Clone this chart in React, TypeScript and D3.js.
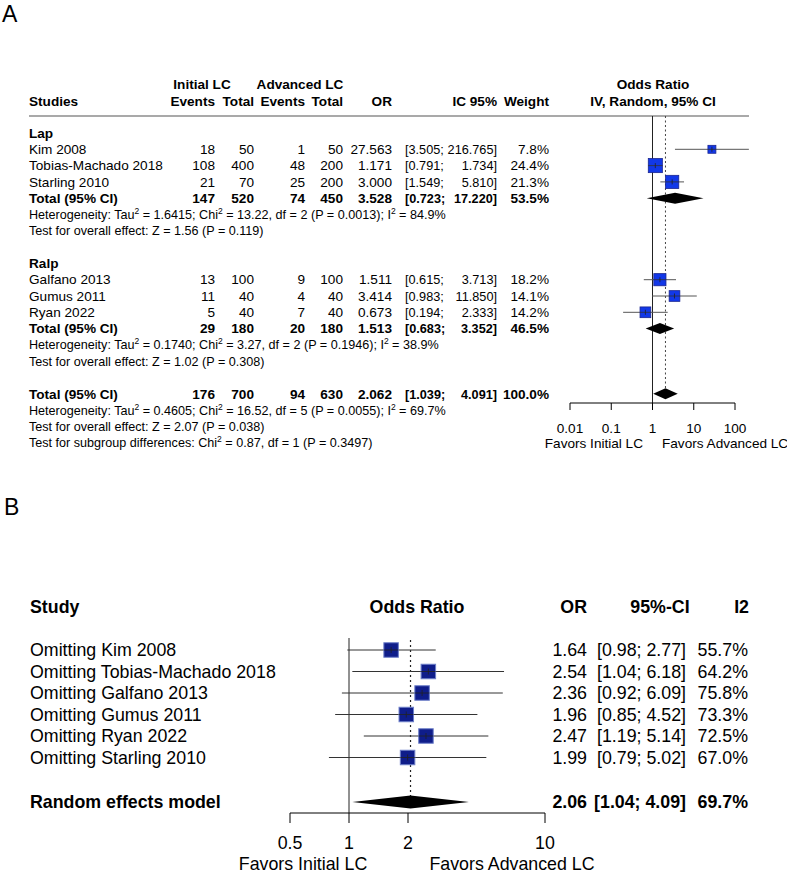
import React from "react";
import * as d3 from "d3";

// ---- Panel A data (subgroup meta-analysis) ----
const studiesA = ["Kim 2008", "Tobias-Machado 2018", "Starling 2010", "Galfano 2013", "Gumus 2011", "Ryan 2022"];
const groupA = [0, 0, 0, 1, 1, 1];
const eventsInitial = [18, 108, 21, 13, 11, 5];
const totalInitial = [50, 400, 70, 100, 40, 40];
const eventsAdvanced = [1, 48, 25, 9, 4, 7];
const totalAdvanced = [50, 200, 200, 100, 40, 40];
const orA = [27.563, 1.171, 3.0, 1.511, 3.414, 0.673];
const lowerA = [3.505, 0.791, 1.549, 0.615, 0.983, 0.194];
const upperA = [216.765, 1.734, 5.81, 3.713, 11.85, 2.333];
const weightA = [7.8, 24.4, 21.3, 18.2, 14.1, 14.2];

const subgroups = ["Lap", "Ralp"];
const subEventsInitial = [147, 29];
const subTotalInitial = [520, 180];
const subEventsAdvanced = [74, 20];
const subTotalAdvanced = [450, 180];
const subOR = [3.528, 1.513];
const subLower = [0.723, 0.683];
const subUpper = [17.22, 3.352];
const subWeight = [53.5, 46.5];
const subHet = [
  "Heterogeneity: Tau^2 = 1.6415; Chi^2 = 13.22, df = 2 (P = 0.0013); I^2 = 84.9%",
  "Heterogeneity: Tau^2 = 0.1740; Chi^2 = 3.27, df = 2 (P = 0.1946); I^2 = 38.9%",
];
const subTest = ["Test for overall effect: Z = 1.56 (P = 0.119)", "Test for overall effect: Z = 1.02 (P = 0.308)"];

const overallCounts = [176, 700, 94, 630];
const overallOR = 2.062;
const overallLower = 1.039;
const overallUpper = 4.091;
const overallWeight = 100.0;
const overallNotes = [
  "Heterogeneity: Tau^2 = 0.4605; Chi^2 = 16.52, df = 5 (P = 0.0055); I^2 = 69.7%",
  "Test for overall effect: Z = 2.07 (P = 0.038)",
  "Test for subgroup differences: Chi^2 = 0.87, df = 1 (P = 0.3497)",
];
const ticksA = [0.01, 0.1, 1, 10, 100];

// ---- Panel B data (leave-one-out) ----
const omitted = [
  "Omitting Kim 2008",
  "Omitting Tobias-Machado 2018",
  "Omitting Galfano 2013",
  "Omitting Gumus 2011",
  "Omitting Ryan 2022",
  "Omitting Starling 2010",
];
const orB = [1.64, 2.54, 2.36, 1.96, 2.47, 1.99];
const lowerB = [0.98, 1.04, 0.92, 0.85, 1.19, 0.79];
const upperB = [2.77, 6.18, 6.09, 4.52, 5.14, 5.02];
const i2B = [55.7, 64.2, 75.8, 73.3, 72.5, 67.0];
const randomOR = 2.06;
const randomLower = 1.04;
const randomUpper = 4.09;
const randomI2 = 69.7;
const ticksB = [0.5, 1, 2, 10];

const FONT = "'Liberation Sans', Arial, Helvetica, sans-serif";

function Sup({ text }: { text: string }) {
  // renders "x^2" with a raised small 2
  const parts = text.split("^2");
  return (
    <>
      {parts.map((p, i) => (
        <React.Fragment key={i}>
          <tspan dy={i > 0 ? 5 : 0}>{p}</tspan>
          {i < parts.length - 1 && (
            <tspan dy={-5} fontSize={8.5}>
              2
            </tspan>
          )}
        </React.Fragment>
      ))}
    </>
  );
}

function PanelA() {
  const x = d3.scaleLog().domain([0.01, 100]).range([570, 735]);
  const rowH = 16.3;
  const row0 = 133;
  const yRow = (i: number) => row0 + i * rowH;
  const fs = 13.6;
  const fsSmall = 12.6;
  const fsCI = 12.7;
  const base = (y: number, f = fs) => y + f * 0.35;
  const sq = (w: number) => 2.85 * Math.sqrt(w);
  const f3 = d3.format(".3f");

  // row indices: subgroup title, 3 studies, total, het, test, blank
  const groupStart = [0, 8];
  const overallRow = 16;
  const axisY = 403;

  const numCols = (vals: number[], y: number, bold: boolean) => {
    const xs = [215, 254, 305, 343];
    return vals.map((v, k) => (
      <text key={k} x={xs[k]} y={base(y)} textAnchor="end" fontWeight={bold ? "bold" : "normal"}>
        {v}
      </text>
    ));
  };

  const statCols = (or: number, lo: number, hi: number, w: number, y: number, bold: boolean) => (
    <g fontWeight={bold ? "bold" : "normal"}>
      <text x={392} y={base(y)} textAnchor="end">
        {f3(or)}
      </text>
      <text x={405} y={base(y)} fontSize={fsCI}>
        {"[" + f3(lo) + ";"}
      </text>
      <text x={497} y={base(y)} textAnchor="end" fontSize={fsCI}>
        {f3(hi) + "]"}
      </text>
      <text x={549} y={base(y)} textAnchor="end">
        {w.toFixed(1) + "%"}
      </text>
    </g>
  );

  const diamond = (lo: number, est: number, hi: number, y: number, h: number) => {
    const pts: [number, number][] = [
      [x(lo), y],
      [x(est), y - h],
      [x(hi), y],
      [x(est), y + h],
    ];
    return <path d={(d3.line()(pts) as string) + "Z"} fill="#000" />;
  };

  return (
    <g fontFamily={FONT} fontSize={fs} fill="#000">
      <text x={2} y={22} fontSize={23}>
        A
      </text>
      {/* header */}
      <g fontWeight="bold">
        <text x={202} y={base(84)} textAnchor="middle">Initial LC</text>
        <text x={300} y={base(84)} textAnchor="middle">Advanced LC</text>
        <text x={653} y={base(84)} textAnchor="middle">Odds Ratio</text>
        <text x={29} y={base(101)}>Studies</text>
        <text x={215} y={base(101)} textAnchor="end">Events</text>
        <text x={254} y={base(101)} textAnchor="end">Total</text>
        <text x={305} y={base(101)} textAnchor="end">Events</text>
        <text x={343} y={base(101)} textAnchor="end">Total</text>
        <text x={392} y={base(101)} textAnchor="end">OR</text>
        <text x={497} y={base(101)} textAnchor="end">IC 95%</text>
        <text x={549} y={base(101)} textAnchor="end">Weight</text>
        <text x={653} y={base(101)} textAnchor="middle">IV, Random, 95% CI</text>
      </g>
      <line x1={29} x2={749} y1={116} y2={116} stroke="#555" strokeWidth={1.2} />

      {/* reference lines */}
      <line x1={x(1)} x2={x(1)} y1={116} y2={axisY} stroke="#222" strokeWidth={1} />
      <line
        x1={x(overallOR)}
        x2={x(overallOR)}
        y1={116}
        y2={yRow(overallRow)}
        stroke="#444"
        strokeWidth={1}
        strokeDasharray="2,2.5"
      />

      {subgroups.map((g, gi) => {
        const s = groupStart[gi];
        const idx = studiesA.map((_, i) => i).filter((i) => groupA[i] === gi);
        return (
          <g key={g}>
            <text x={29} y={base(yRow(s))} fontWeight="bold">
              {g}
            </text>
            {idx.map((i, k) => {
              const y = yRow(s + 1 + k);
              const w = sq(weightA[i]);
              const cx = x(orA[i]);
              return (
                <g key={i}>
                  <text x={29} y={base(y)}>
                    {studiesA[i]}
                  </text>
                  {numCols([eventsInitial[i], totalInitial[i], eventsAdvanced[i], totalAdvanced[i]], y, false)}
                  {statCols(orA[i], lowerA[i], upperA[i], weightA[i], y, false)}
                  <line x1={x(lowerA[i])} x2={x(upperA[i])} y1={y} y2={y} stroke="#555" strokeWidth={1} />
                  <rect
                    x={cx - w / 2}
                    y={y - w / 2}
                    width={w}
                    height={w}
                    fill="#1238e8"
                    stroke="#1a2590"
                    strokeWidth={0.8}
                  />
                  <line
                    x1={Math.max(x(lowerA[i]), cx - w / 2)}
                    x2={Math.min(x(upperA[i]), cx + w / 2)}
                    y1={y}
                    y2={y}
                    stroke="#333"
                    strokeWidth={0.8}
                  />
                  <line x1={cx} x2={cx} y1={y - 2.5} y2={y + 2.5} stroke="#222" strokeWidth={0.8} />
                </g>
              );
            })}
            <text x={29} y={base(yRow(s + 4))} fontWeight="bold">
              Total (95% CI)
            </text>
            {numCols(
              [subEventsInitial[gi], subTotalInitial[gi], subEventsAdvanced[gi], subTotalAdvanced[gi]],
              yRow(s + 4),
              true
            )}
            {statCols(subOR[gi], subLower[gi], subUpper[gi], subWeight[gi], yRow(s + 4), true)}
            {diamond(subLower[gi], subOR[gi], subUpper[gi], yRow(s + 4), 5.5)}
            <text x={29} y={base(yRow(s + 5), fsSmall)} fontSize={fsSmall}>
              <Sup text={subHet[gi]} />
            </text>
            <text x={29} y={base(yRow(s + 6), fsSmall)} fontSize={fsSmall}>
              {subTest[gi]}
            </text>
          </g>
        );
      })}

      {/* overall */}
      <text x={29} y={base(yRow(overallRow))} fontWeight="bold">
        Total (95% CI)
      </text>
      {numCols(overallCounts, yRow(overallRow), true)}
      {statCols(overallOR, overallLower, overallUpper, overallWeight, yRow(overallRow), true)}
      {diamond(overallLower, overallOR, overallUpper, yRow(overallRow), 5.5)}
      {overallNotes.map((t, k) => (
        <text key={k} x={29} y={base(yRow(overallRow + 1 + k), fsSmall)} fontSize={fsSmall}>
          <Sup text={t} />
        </text>
      ))}

      {/* axis */}
      <line x1={x(0.01)} x2={x(100)} y1={axisY} y2={axisY} stroke="#000" strokeWidth={1} />
      {ticksA.map((t) => (
        <g key={t}>
          <line x1={x(t)} x2={x(t)} y1={axisY} y2={axisY + 7} stroke="#000" strokeWidth={1} />
          <text x={x(t)} y={base(428)} textAnchor="middle">
            {String(t)}
          </text>
        </g>
      ))}
      <text x={643} y={base(443)} textAnchor="end">
        Favors Initial LC
      </text>
      <text x={662} y={base(443)}>
        Favors Advanced LC
      </text>
    </g>
  );
}

function PanelB() {
  const x = d3.scaleLog().domain([0.5, 10]).range([290, 545]);
  const fs = 17.8;
  const base = (y: number) => y + fs * 0.35;
  const rowY = (i: number) => 650 + i * 21.5;
  const randomY = 802;
  const axisY = 813;
  const sq = 14.5;
  const f2 = d3.format(".2f");
  const ci = (lo: number, hi: number) => "[" + f2(lo) + "; " + f2(hi) + "]";
  const pts: [number, number][] = [
    [x(randomLower), randomY],
    [x(randomOR), randomY - 6.5],
    [x(randomUpper), randomY],
    [x(randomOR), randomY + 6.5],
  ];

  return (
    <g fontFamily={FONT} fontSize={fs} fill="#000">
      <text x={4} y={515} fontSize={23}>
        B
      </text>
      <g fontWeight="bold">
        <text x={30} y={base(607)}>Study</text>
        <text x={417} y={base(607)} textAnchor="middle">Odds Ratio</text>
        <text x={587} y={base(607)} textAnchor="end">OR</text>
        <text x={660} y={base(607)} textAnchor="middle">95%-CI</text>
        <text x={749} y={base(607)} textAnchor="end">I2</text>
      </g>

      <line x1={x(1)} x2={x(1)} y1={638} y2={axisY} stroke="#222" strokeWidth={1} />
      <line
        x1={x(randomOR)}
        x2={x(randomOR)}
        y1={640}
        y2={randomY}
        stroke="#222"
        strokeWidth={1.2}
        strokeDasharray="2,3"
      />

      {omitted.map((s, i) => {
        const y = rowY(i);
        return (
          <g key={s}>
            <text x={30} y={base(y)}>
              {s}
            </text>
            <line x1={x(lowerB[i])} x2={x(upperB[i])} y1={y} y2={y} stroke="#333" strokeWidth={1} />
            <rect
              x={x(orB[i]) - sq / 2}
              y={y - sq / 2}
              width={sq}
              height={sq}
              fill="#0f1d8a"
              stroke="#6d7fc9"
              strokeWidth={1}
            />
            <line x1={x(orB[i]) - sq / 2} x2={x(orB[i]) + sq / 2} y1={y} y2={y} stroke="#222" strokeWidth={0.8} />
            <line x1={x(orB[i])} x2={x(orB[i])} y1={y - 3} y2={y + 3} stroke="#222" strokeWidth={0.8} />
            <text x={587} y={base(y)} textAnchor="end">
              {f2(orB[i])}
            </text>
            <text x={686} y={base(y)} textAnchor="end">
              {ci(lowerB[i], upperB[i])}
            </text>
            <text x={748} y={base(y)} textAnchor="end">
              {i2B[i].toFixed(1) + "%"}
            </text>
          </g>
        );
      })}

      <g fontWeight="bold">
        <text x={30} y={base(randomY)}>Random effects model</text>
        <text x={587} y={base(randomY)} textAnchor="end">
          {f2(randomOR)}
        </text>
        <text x={686} y={base(randomY)} textAnchor="end">
          {ci(randomLower, randomUpper)}
        </text>
        <text x={748} y={base(randomY)} textAnchor="end">
          {randomI2.toFixed(1) + "%"}
        </text>
      </g>
      <path d={(d3.line()(pts) as string) + "Z"} fill="#000" />

      <line x1={x(0.5)} x2={x(10)} y1={axisY} y2={axisY} stroke="#000" strokeWidth={1} />
      {ticksB.map((t) => (
        <g key={t}>
          <line x1={x(t)} x2={x(t)} y1={axisY} y2={axisY + 10} stroke="#000" strokeWidth={1} />
          <text x={x(t)} y={base(843)} textAnchor="middle">
            {String(t)}
          </text>
        </g>
      ))}
      <text x={303} y={base(864)} textAnchor="middle">
        Favors Initial LC
      </text>
      <text x={512} y={base(864)} textAnchor="middle">
        Favors Advanced LC
      </text>
    </g>
  );
}

export default function App() {
  return (
    <div style={{ position: "absolute", left: 0, top: 0 }}>
      <svg width={787} height={873} style={{ display: "block", background: "#fff" }}>
        <PanelA />
        <PanelB />
      </svg>
    </div>
  );
}
